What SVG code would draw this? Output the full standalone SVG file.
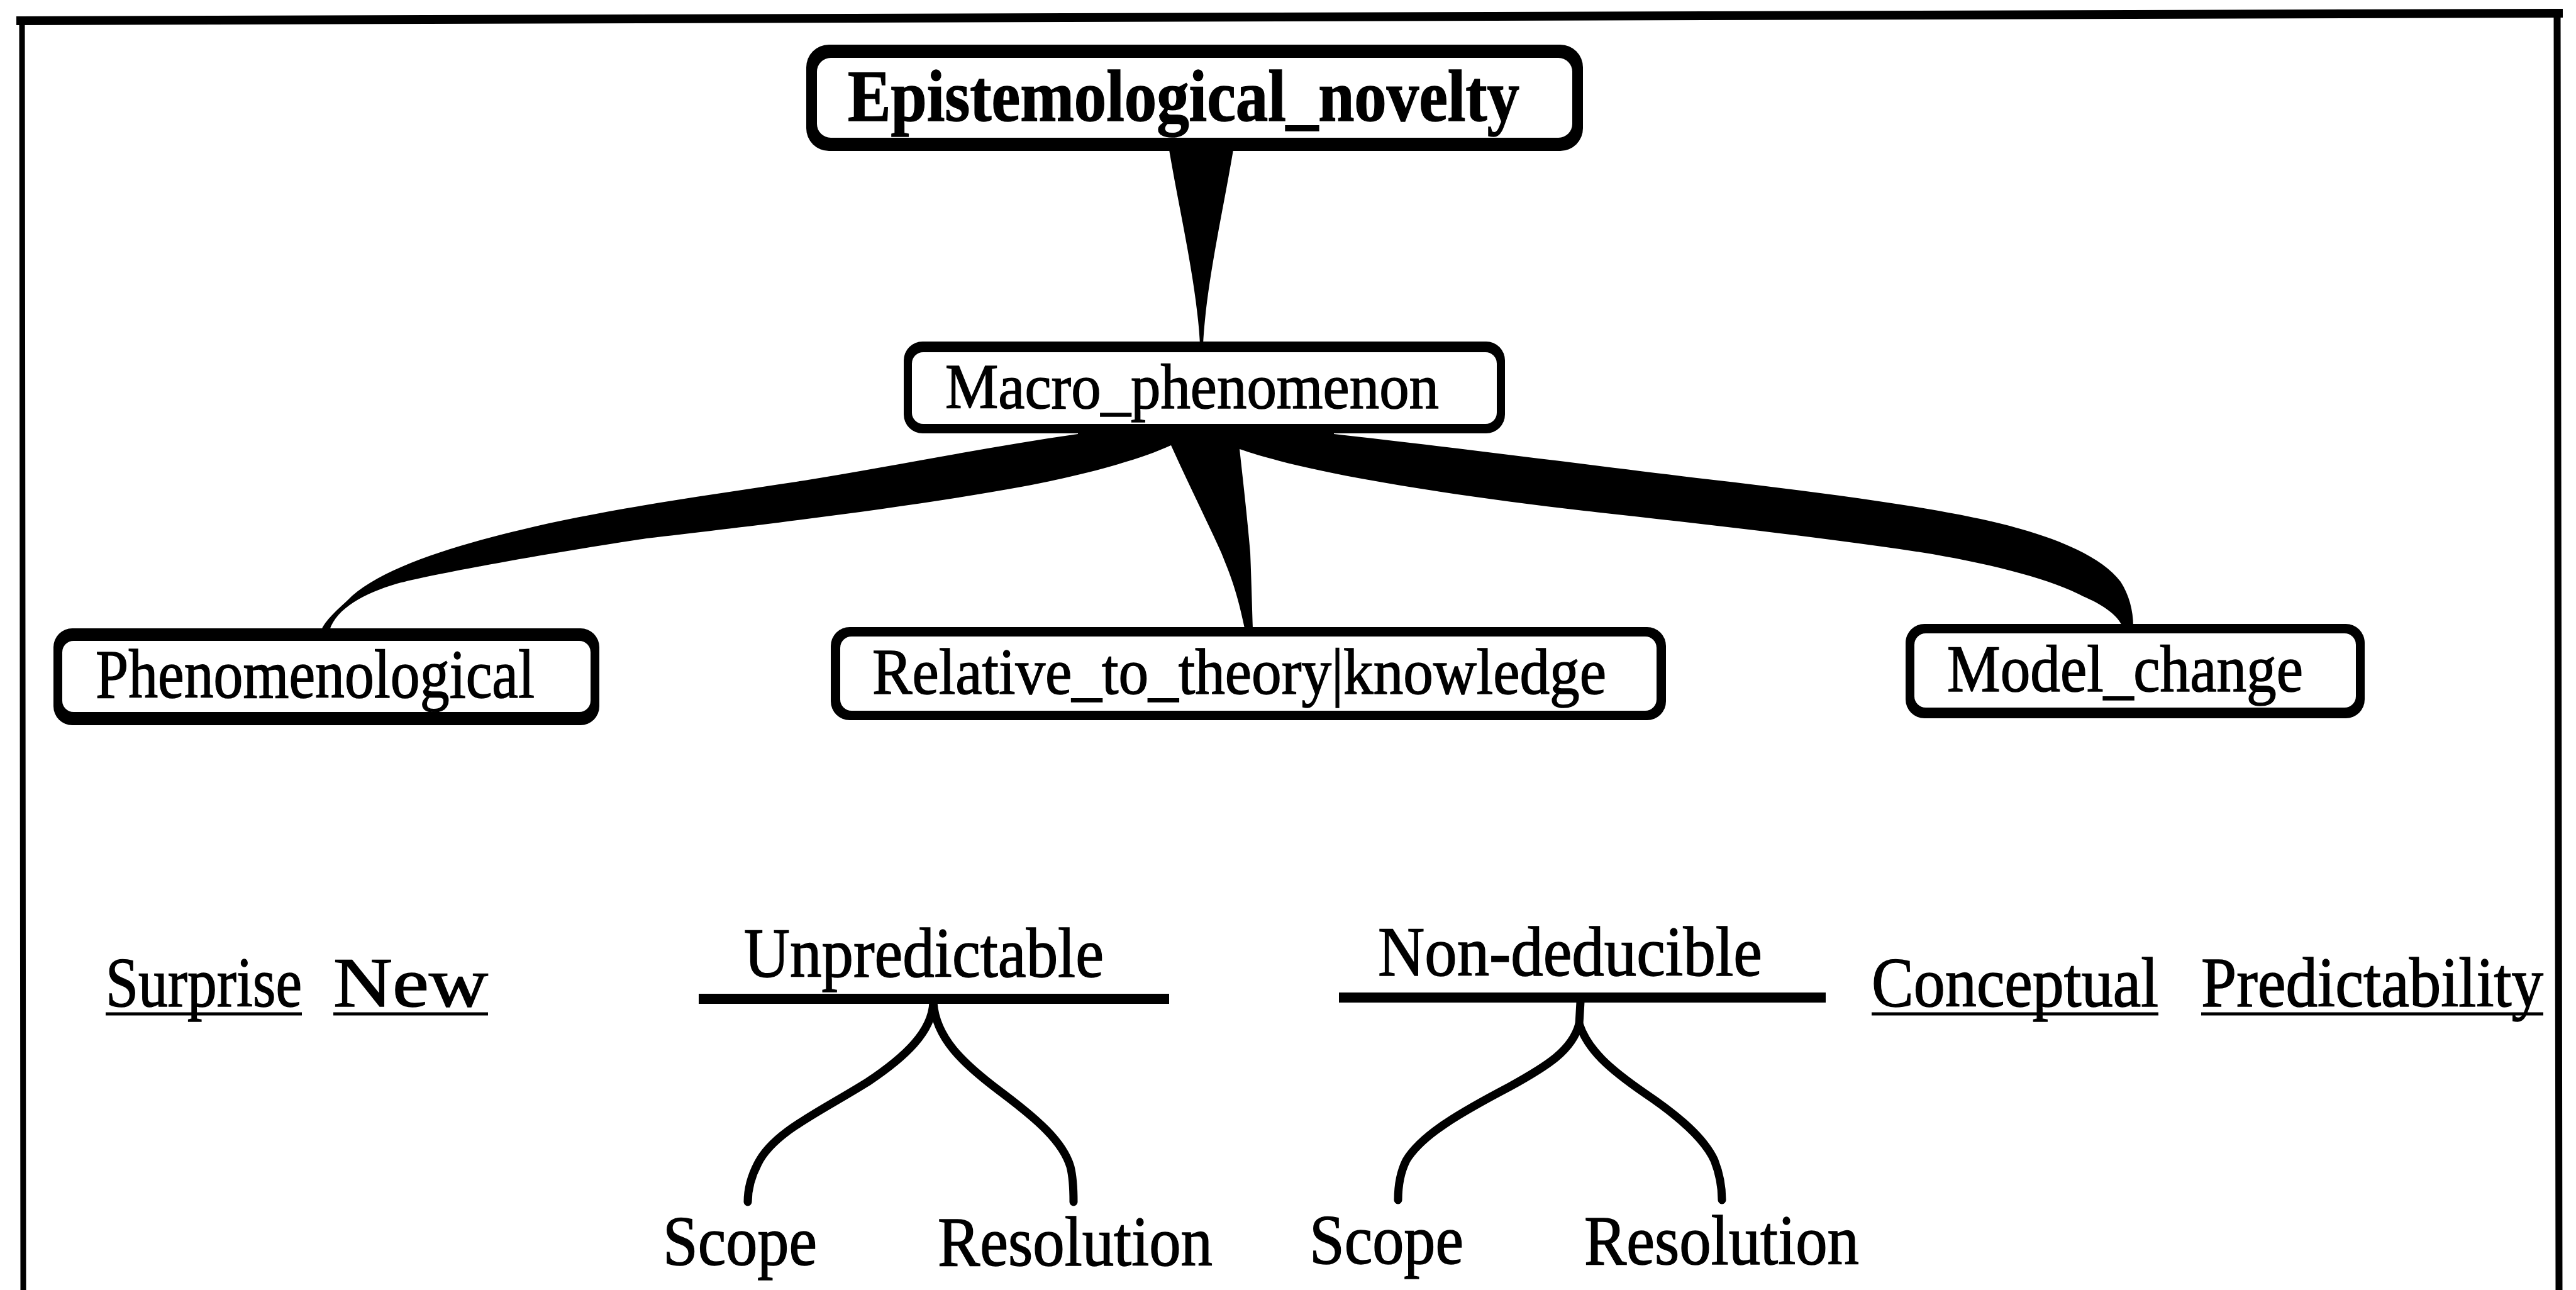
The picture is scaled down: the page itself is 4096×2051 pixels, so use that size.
<svg xmlns="http://www.w3.org/2000/svg" width="4096" height="2051" viewBox="0 0 4096 2051">
<style>
.bg{fill:#fff}
.frame{stroke:#000;fill:none;stroke-linecap:square}
.bo{fill:#000}
.bi{fill:#fff}
.lbl{font-family:"Liberation Serif","Times New Roman",serif;fill:#000;stroke:#000;stroke-width:1.5}
.b{font-weight:bold}
.wedge{fill:#000}
.tree{fill:none;stroke:#000;stroke-width:13;stroke-linecap:round}
.ul{stroke:#000;stroke-linecap:butt}
</style>
<rect class="bg" x="0" y="0" width="4096" height="2051"/>
<g id="frame">
<line class="frame" x1="33" y1="33" x2="4068" y2="21" stroke-width="14"/>
<line class="frame" x1="35" y1="33" x2="37" y2="2051" stroke-width="9"/>
<line class="frame" x1="4066" y1="21" x2="4069" y2="2051" stroke-width="11"/>
</g>
<g id="connectors">
<path class="wedge" d="M1858,232 L1962,232 C1946,330 1918,450 1913,547 L1908,547 C1903,450 1874,330 1858,232 Z"/>
<path class="wedge" d="M1714,680 L2121,680 L2121,690 C2300,710 2550,742 2716,762 C2880,781 3100,808 3213,841 C3290,863 3345,890 3372,925 C3385,945 3392,970 3392,996 L3375,996 C3365,975 3340,960 3312,948 C3260,920 3160,895 3054,878 C2900,855 2700,832 2518,812 C2300,787 2080,752 1971,714 C1976,760 1984,830 1988,879 C1990,930 1991,970 1992,999 L1979,999 C1965,930 1950,900 1942,879 C1920,830 1890,770 1862,708 C1810,732 1720,756 1624,774 C1450,806 1200,836 1028,856 C900,875 700,910 631,928 C580,943 535,967 524,1002 L511,1002 C515,990 530,975 552,955 C600,905 720,868 830,842 C950,812 1120,788 1266,766 C1400,745 1560,712 1714,690 Z"/>
<path class="tree" d="M1484,1594 C1482,1640 1440,1680 1380,1720 C1300,1770 1230,1800 1205,1850 C1192,1875 1189,1895 1189,1911"/>
<path class="tree" d="M1484,1594 C1488,1650 1530,1690 1590,1735 C1650,1780 1690,1815 1702,1855 C1707,1875 1707,1895 1707,1911"/>
<path class="tree" d="M2513,1593 L2511,1628 C2500,1670 2460,1695 2400,1728 C2320,1770 2260,1805 2236,1845 C2226,1865 2223,1890 2223,1908"/>
<path class="tree" d="M2511,1628 C2525,1670 2560,1700 2615,1738 C2670,1775 2710,1810 2726,1845 C2735,1868 2738,1890 2738,1908"/>
</g>
<g id="n-epistemological">
<rect class="bo" x="1282" y="71" width="1235" height="169" rx="36"/>
<rect class="bi" x="1299" y="92" width="1201" height="127" rx="22"/>
<text class="lbl b" x="1348" y="192" font-size="116" textLength="1068" lengthAdjust="spacingAndGlyphs">Epistemological_novelty</text>
</g>
<g id="n-macro">
<rect class="bo" x="1437" y="543" width="956" height="146" rx="30"/>
<rect class="bi" x="1450" y="560" width="930" height="114" rx="18"/>
<text class="lbl" x="1503" y="649" font-size="102" textLength="785" lengthAdjust="spacingAndGlyphs">Macro_phenomenon</text>
</g>
<g id="n-phenomenological">
<rect class="bo" x="85" y="999" width="868" height="154" rx="30"/>
<rect class="bi" x="99" y="1019" width="840" height="113" rx="18"/>
<text class="lbl" x="152" y="1109" font-size="110" textLength="698" lengthAdjust="spacingAndGlyphs">Phenomenological</text>
</g>
<g id="n-relative">
<rect class="bo" x="1321" y="997" width="1328" height="148" rx="30"/>
<rect class="bi" x="1336" y="1012" width="1298" height="118" rx="18"/>
<text class="lbl" x="1387" y="1103" font-size="104" textLength="1167" lengthAdjust="spacingAndGlyphs">Relative_to_theory|knowledge</text>
</g>
<g id="n-model">
<rect class="bo" x="3030" y="992" width="730" height="150" rx="30"/>
<rect class="bi" x="3044" y="1007" width="702" height="118" rx="18"/>
<text class="lbl" x="3096" y="1099" font-size="106" textLength="566" lengthAdjust="spacingAndGlyphs">Model_change</text>
</g>
<g id="n-surprise">
<text class="lbl" x="168" y="1600" font-size="112" textLength="312" lengthAdjust="spacingAndGlyphs">Surprise</text>
<line class="ul" x1="168" y1="1612" x2="480" y2="1612" stroke-width="5"/>
</g>
<g id="n-new">
<text class="lbl" x="530" y="1600" font-size="112" textLength="246" lengthAdjust="spacingAndGlyphs">New</text>
<line class="ul" x1="530" y1="1612" x2="776" y2="1612" stroke-width="5"/>
</g>
<g id="n-unpredictable">
<text class="lbl" x="1183" y="1553" font-size="112" textLength="572" lengthAdjust="spacingAndGlyphs">Unpredictable</text>
<line class="ul" x1="1111" y1="1588" x2="1859" y2="1588" stroke-width="16"/>
</g>
<g id="n-nondeducible">
<text class="lbl" x="2191" y="1551" font-size="112" textLength="611" lengthAdjust="spacingAndGlyphs">Non-deducible</text>
<line class="ul" x1="2129" y1="1586" x2="2903" y2="1586" stroke-width="16"/>
</g>
<g id="n-conceptual">
<text class="lbl" x="2976" y="1600" font-size="112" textLength="456" lengthAdjust="spacingAndGlyphs">Conceptual</text>
<line class="ul" x1="2976" y1="1612" x2="3432" y2="1612" stroke-width="5"/>
</g>
<g id="n-predictability">
<text class="lbl" x="3500" y="1600" font-size="112" textLength="544" lengthAdjust="spacingAndGlyphs">Predictability</text>
<line class="ul" x1="3500" y1="1612" x2="4044" y2="1612" stroke-width="5"/>
</g>
<g id="n-scope1">
<text class="lbl" x="1054" y="2011" font-size="112" textLength="245" lengthAdjust="spacingAndGlyphs">Scope</text>
</g>
<g id="n-resolution1">
<text class="lbl" x="1491" y="2012" font-size="112" textLength="437" lengthAdjust="spacingAndGlyphs">Resolution</text>
</g>
<g id="n-scope2">
<text class="lbl" x="2082" y="2009" font-size="112" textLength="245" lengthAdjust="spacingAndGlyphs">Scope</text>
</g>
<g id="n-resolution2">
<text class="lbl" x="2519" y="2010" font-size="112" textLength="437" lengthAdjust="spacingAndGlyphs">Resolution</text>
</g>
</svg>
